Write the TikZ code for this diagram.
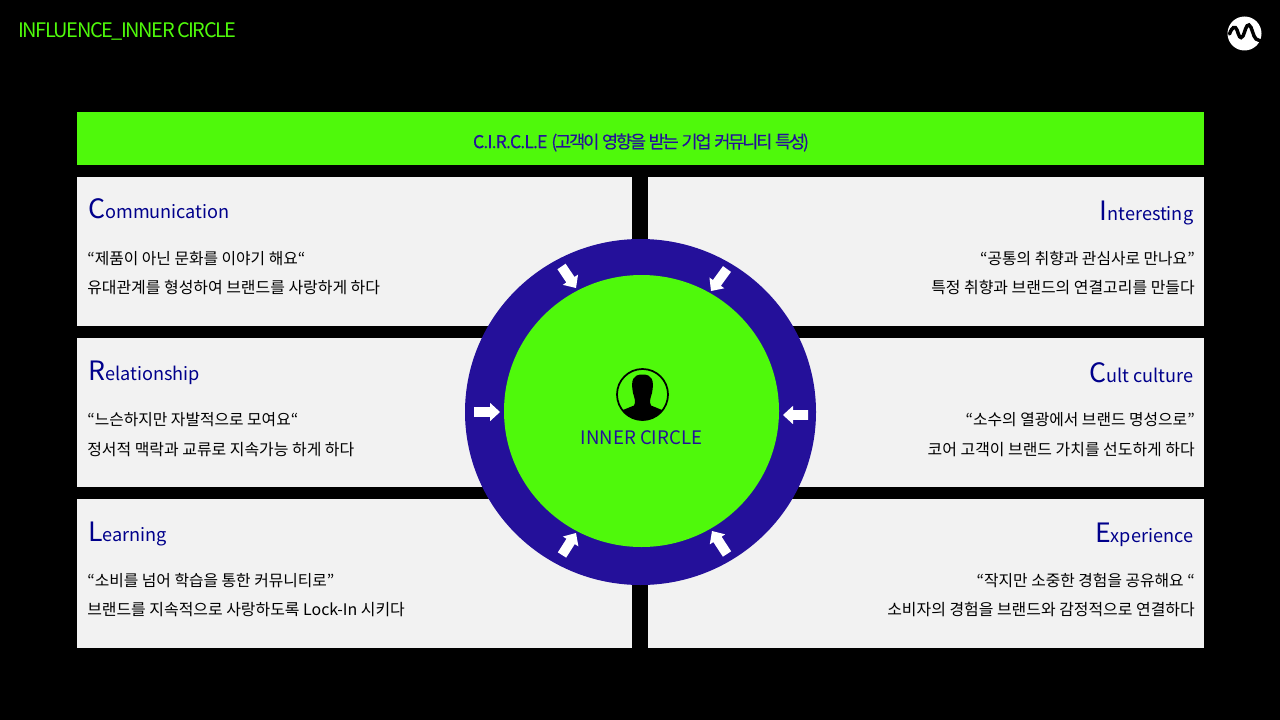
\documentclass[tikz,border=0pt]{standalone}
\usepackage{fontspec}
\setmainfont{Noto Sans CJK KR}
\newfontfamily\titlefont[LetterSpace=-7.4,WordSpace=0.8]{Noto Sans CJK KR}
\newfontfamily\barfont[LetterSpace=-12.5,WordSpace=1.5,FakeBold=0.1]{Noto Sans CJK KR}
\newfontfamily\barlatin[LetterSpace=-5,FakeBold=0.1]{Noto Sans CJK KR}
\usetikzlibrary{calc}
\definecolor{limeg}{HTML}{4FF90B}
\definecolor{ringblue}{HTML}{24109A}
\definecolor{panelg}{HTML}{F2F2F2}
\definecolor{headnavy}{HTML}{00008B}
\newcommand{\inarrow}[2]{%
  \coordinate (H) at ($(#2)!7.5pt!(#1)$);
  \fill[white] ($(#1)!3.7pt!90:(#2)$) -- ($(H)!3.7pt!-90:(#1)$) -- ($(H)!6.9pt!-90:(#1)$) -- (#2)
    -- ($(H)!6.9pt!90:(#1)$) -- ($(H)!3.7pt!90:(#1)$) -- ($(#1)!3.7pt!-90:(#2)$) -- cycle;}
\tikzset{
  x=0.75pt,y=-0.75pt,
  panel/.style={fill=panelg,draw=none},
  heading/.style={text=headnavy,inner sep=0pt,font=\fontsize{13.6}{18}\selectfont},
  bodyl/.style={anchor=base west,inner sep=0pt,text=black,font=\fontsize{11.95}{14}\selectfont},
  bodyr/.style={anchor=base east,inner sep=0pt,text=black,font=\fontsize{11.95}{14}\selectfont},
  quotel/.style={bodyl,font=\fontsize{11.85}{14}\selectfont},
  quoter/.style={bodyr,font=\fontsize{11.85}{14}\selectfont},
}
\newcommand{\HD}[2]{{\fontsize{20}{24}\selectfont #1}#2}
\begin{document}
\begin{tikzpicture}
\useasboundingbox (0,0) rectangle (1280,720);
\fill[black] (0,0) rectangle (1280,720);
\node[anchor=base west,inner sep=0pt,text=limeg,font=\titlefont\fontsize{15}{16}\selectfont] (title) at (18,38) {INFLUENCE\_INNER CIRCLE};
% logo
\fill[white] (1244.5,33.5) circle (17);
\draw[black,line width=2.6pt,line cap=round] (1229.5,34) .. controls (1232,27) and (1235,25) .. (1237,30) .. controls (1239,36) and (1240,40) .. (1243,36) .. controls (1245,32) and (1246,24) .. (1249,25) .. controls (1252,26) and (1253,37) .. (1256,39) .. controls (1258,40) and (1259,40) .. (1260.5,41);
% bar
\fill[limeg] (77,112) rectangle (1204,165);
\node[text=ringblue,inner sep=0pt,font=\fontsize{13.2}{16}\selectfont] (bar) at (641,142.5) {{\barlatin\fontsize{13.2}{16}\selectfont C.I.R.C.L.E} {\barfont\fontsize{13.2}{16}\selectfont (고객이 영향을 받는 기업 커뮤니티 특성)}};
% panels
\fill[panel] (77,177) rectangle (632,326);
\fill[panel] (648,177) rectangle (1204,326);
\fill[panel] (77,338) rectangle (632,487);
\fill[panel] (648,338) rectangle (1204,487);
\fill[panel] (77,499) rectangle (632,648);
\fill[panel] (648,499) rectangle (1204,648);
% left text
\node[heading,anchor=base west] (h1) at (88,219) {\HD{C}{ommunication}};
\node[quotel] (a1) at (87,264.5) {“제품이 아닌 문화를 이야기 해요“};
\node[bodyl] (b1) at (87,293.5) {유대관계를 형성하여 브랜드를 사랑하게 하다};
\node[heading,anchor=base west] (h2) at (88,380) {\HD{R}{elationship}};
\node[quotel] (a2) at (87,425.5) {“느슨하지만 자발적으로 모여요“};
\node[bodyl] (b2) at (87,455.5) {정서적 맥락과 교류로 지속가능 하게 하다};
\node[heading,anchor=base west] (h3) at (88,541) {\HD{L}{earning}};
\node[quotel] (a3) at (87,586.5) {“소비를 넘어 학습을 통한 커뮤니티로”};
\node[bodyl] (b3) at (87,615.5) {브랜드를 지속적으로 사랑하도록 Lock-In 시키다};
% right text
\node[heading,anchor=base east] (h4) at (1193.5,220) {\HD{I}{nteresting}};
\node[quoter] (a4) at (1195,264.5) {“공통의 취향과 관심사로 만나요”};
\node[bodyr] (b4) at (1195,293.5) {특정 취향과 브랜드의 연결고리를 만들다};
\node[heading,anchor=base east] (h5) at (1193.5,382) {\HD{C}{ult culture}};
\node[quoter] (a5) at (1195,425.5) {“소수의 열광에서 브랜드 명성으로”};
\node[bodyr] (b5) at (1195,455.5) {코어 고객이 브랜드 가치를 선도하게 하다};
\node[heading,anchor=base east] (h6) at (1193.5,542) {\HD{E}{xperience}};
\node[quoter] (a6) at (1195,586.5) {“작지만 소중한 경험을 공유해요 “};
\node[bodyr] (b6) at (1195,615.5) {소비자의 경험을 브랜드와 감정적으로 연결하다};
% circles
\fill[ringblue] (640.5,412) ellipse (175.5 and 173);
\fill[limeg] (641.5,411) ellipse (137.5 and 136);
% arrows
\coordinate (t1) at (561.5,266.5); \coordinate (p1) at (576,288); \inarrow{t1}{p1}
\coordinate (t2) at (727,269); \coordinate (p2) at (711,291); \inarrow{t2}{p2}
\coordinate (t3) at (474,412); \coordinate (p3) at (500,412); \inarrow{t3}{p3}
\coordinate (t4) at (808,415); \coordinate (p4) at (783,415); \inarrow{t4}{p4}
\coordinate (t5) at (562,555); \coordinate (p5) at (576,533); \inarrow{t5}{p5}
\coordinate (t6) at (727,554); \coordinate (p6) at (712,531); \inarrow{t6}{p6}
% person icon
\begin{scope}
\clip (642.5,394.5) circle (26);
\fill[black] (623,410) -- (634,405.5) .. controls (636,402) and (634.5,398) .. (633,393) .. controls (630.5,380) and (633,374.5) .. (642.5,374.5) .. controls (652,374.5) and (654.5,380) .. (652,393) .. controls (650.5,398) and (649,402) .. (651,405.5) -- (662,410) -- (670,425) -- (615,425) -- cycle;
\end{scope}
\draw[black,line width=1.3pt] (642.5,394.5) circle (25.5);
\node[text=ringblue,inner sep=0pt,font=\fontsize{13.95}{18}\selectfont] (inner) at (641.5,438) {INNER CIRCLE};
\end{tikzpicture}
\end{document}
